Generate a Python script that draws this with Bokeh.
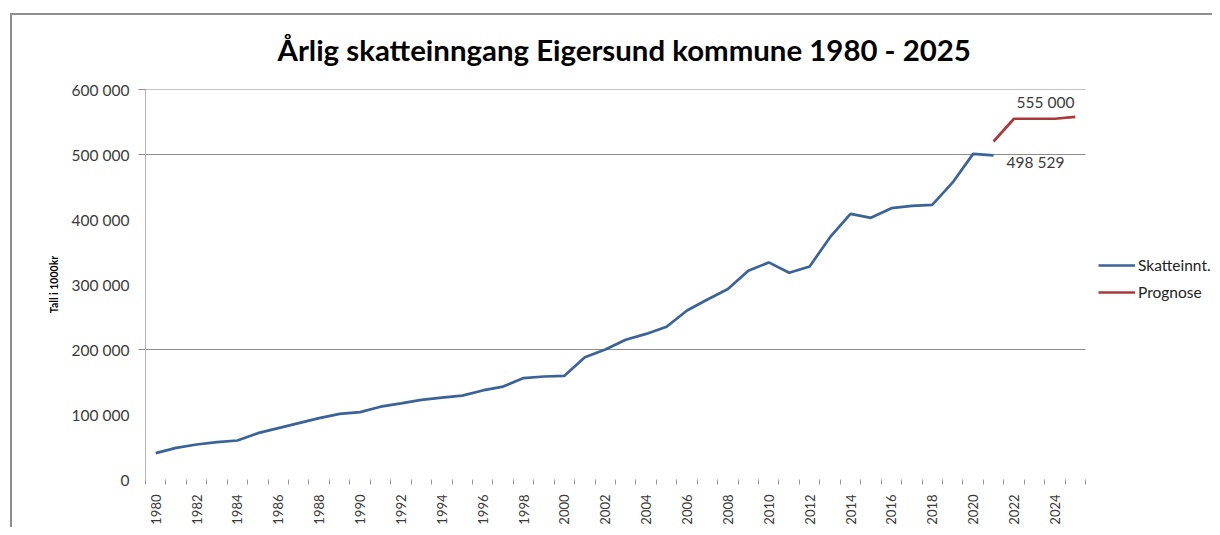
from math import pi
from bokeh.plotting import figure
from bokeh.models import (LinearAxis, FixedTicker, Range1d, Legend, LegendItem, Label)
from bokeh.embed import file_html
from bokeh.resources import INLINE

# ---- data ----
years = list(range(1980, 2022))
skatt = [40500, 48700, 53800, 57400, 60000, 71300, 79000, 86700, 94400, 101000,
         103600, 112000, 117000, 122600, 126000, 129000, 137000, 143000, 156000, 158500,
         159500, 188000, 200000, 215000, 224000, 235000, 260000, 277000, 293000, 321000,
         334000, 318000, 327700, 372800, 408700, 402600, 417400, 421000, 422600, 457000,
         501000, 498529]
prog_years = [2021, 2022, 2023, 2024, 2025]
prognose = [520000, 555000, 555000, 555000, 558000]
y_ticks = [0, 100000, 200000, 300000, 400000, 500000, 600000]
y_grid_ticks = [200000, 500000, 600000]
x_label_years = list(range(1980, 2026, 2))

FONT = "Lato"
TXT = "#3a3a3a"
GRID = "#8c8c8c"

W, H = 1212, 527
LEFT, TOP, BOTTOM = 145, 89, 48
X0 = years[0] - 0.5            # first category edge
X1 = prog_years[-1] + 0.5      # last category edge
PLOT_W = 940                   # pixel width of the category area
x_end = X0 + (W - LEFT) * (X1 - X0) / PLOT_W   # frame reaches the legend area


def fmt(v):
    return f"{v:,}".replace(",", " ")


p = figure(width=W, height=H,
           x_range=Range1d(X0, x_end), y_range=Range1d(0, 600000),
           output_backend="svg", toolbar_location=None,
           y_axis_location=None, x_axis_location="below",
           min_border_left=LEFT, min_border_right=0,
           min_border_top=TOP, min_border_bottom=BOTTOM)
p.border_fill_alpha = 0
p.styles = {
    "background": ("linear-gradient(#8f8f8f, #8f8f8f) 10px 13px / 100% 2px no-repeat, "
                   "linear-gradient(#8f8f8f, #8f8f8f) 10px 13px / 2px 100% no-repeat"),
}
p.outline_line_color = None
p.xgrid.visible = False
p.ygrid.visible = False

# horizontal grid lines over the category area only
p.segment(x0=[X0] * len(y_grid_ticks), y0=y_grid_ticks,
          x1=[X1] * len(y_grid_ticks), y1=y_grid_ticks,
          line_color=GRID, line_width=1)

# title
p.title.text = "Årlig skatteinngang Eigersund kommune 1980 - 2025"
p.title.align = "left"
p.title.offset = 132
p.title.text_font = FONT
p.title.text_font_size = "29.4px"
p.title.text_font_style = "bold"
p.title.text_color = "#000000"
p.title.standoff = 46

# y axes: inner one draws the axis line + ticks, outer one the labels
ax_t = LinearAxis(ticker=FixedTicker(ticks=y_grid_ticks),
                  major_label_overrides={t: "" for t in y_grid_ticks},
                  major_label_text_font_size="1px", major_label_standoff=0,
                  major_tick_out=7, major_tick_in=0, minor_tick_out=0, minor_tick_in=0,
                  major_tick_line_color=GRID, axis_line_color="#b5b5b5")
ax_l = LinearAxis(ticker=FixedTicker(ticks=y_ticks),
                  major_label_overrides={t: fmt(t) for t in y_ticks},
                  major_label_text_font=FONT, major_label_text_font_size="15.5px",
                  major_label_text_color=TXT, major_label_standoff=9,
                  major_tick_line_color=None, major_tick_out=0, major_tick_in=0,
                  minor_tick_line_color=None, axis_line_color=None,
                  axis_label="Tall i 1000kr", axis_label_text_font=FONT,
                  axis_label_text_font_size="10.5px", axis_label_text_font_style="bold",
                  axis_label_text_color="#000000", axis_label_standoff=9)
p.add_layout(ax_t, "left")
p.add_layout(ax_l, "left")

# x axis
xa = p.xaxis[0]
xa.ticker = FixedTicker(ticks=x_label_years,
                        minor_ticks=[y - 0.5 for y in range(years[0], prog_years[-1] + 2)])
xa.major_label_orientation = pi / 2
xa.major_label_text_font = FONT
xa.major_label_text_font_size = "13px"
xa.major_label_text_color = TXT
xa.major_tick_line_color = None
xa.major_tick_out = 0
xa.major_tick_in = 0
xa.minor_tick_out = 5
xa.minor_tick_in = 0
xa.minor_tick_line_color = "#9a9a9a"
xa.axis_line_color = None
xa.major_label_standoff = 10

# lines
r1 = p.line(years, skatt, line_color="#3A6399", line_width=2.7)
r2 = p.line(prog_years, prognose, line_color="#A93A3A", line_width=2.7)

# value labels
p.add_layout(Label(x=prog_years[2], y=prognose[2], text=fmt(prognose[2]),
                   x_offset=11, y_offset=17, text_align="center",
                   text_baseline="middle", text_font=FONT, text_font_size="15.5px",
                   text_color=TXT))
p.add_layout(Label(x=years[-1], y=skatt[-1], text=fmt(skatt[-1]),
                   x_offset=42, y_offset=-7, text_align="center",
                   text_baseline="middle", text_font=FONT, text_font_size="15.5px",
                   text_color=TXT))

legend = Legend(items=[LegendItem(label="Skatteinnt.", renderers=[r1]),
                       LegendItem(label="Prognose", renderers=[r2])],
                location=(PLOT_W + 13, 177), margin=0, padding=0,
                border_line_color=None, background_fill_alpha=0,
                glyph_width=37, label_standoff=3, spacing=7,
                label_text_font=FONT, label_text_font_size="15.5px",
                label_text_color="#222222")
p.add_layout(legend, "center")

open("out.html", "w").write(file_html(p, INLINE))
